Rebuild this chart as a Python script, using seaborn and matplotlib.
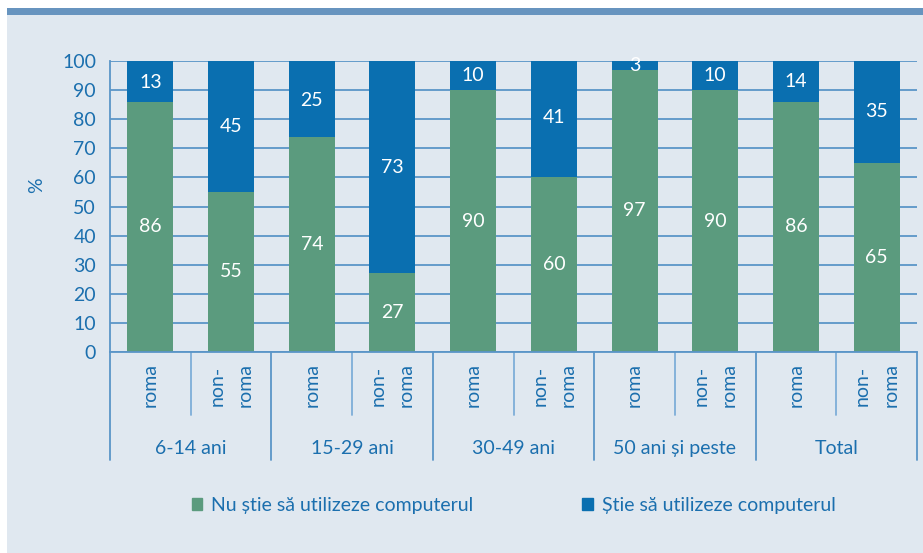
import pandas as pd
import numpy as np
import matplotlib.pyplot as plt
import matplotlib.patches as mpatches
import matplotlib.transforms as mtransforms
import seaborn as sns

groups = ["6-14 ani", "15-29 ani", "30-49 ani", "50 ani și peste", "Total"]
ethnic = ["roma", "non-\nroma"]
nu_stie = [86, 55, 74, 27, 90, 60, 97, 90, 86, 65]
stie = [13, 45, 25, 73, 10, 41, 3, 10, 14, 35]
# stacked to 100% in the original chart
bar_total = [100, 100, 100, 100, 100, 100, 100, 100, 100, 100]
yticks = [0, 10, 20, 30, 40, 50, 60, 70, 80, 90, 100]

GREEN = '#5b9b7e'
BLUE = '#0a6fb0'
TXT = '#1b6fae'
GRID = '#5a95c8'
SEP = '#7eaed8'
BG = '#e0e8f0'

sns.set_style("white")
plt.rcParams['font.family'] = ['Lato', 'DejaVu Sans']

df = pd.DataFrame({
    'bar': [f"{g}|{e}" for g in groups for e in ethnic],
    'nu_stie': nu_stie,
    'stie': stie,
    'total': bar_total,
})

fig = plt.figure(figsize=(9.23, 5.53), dpi=100)
fig.patch.set_facecolor('white')
fig.patches.append(mpatches.Rectangle((7/923, 0), 1, (553-8)/553, transform=fig.transFigure,
                                      facecolor=BG, edgecolor='none', zorder=-10))
fig.patches.append(mpatches.Rectangle((7/923, (553-15)/553), 1, 7/553, transform=fig.transFigure,
                                      facecolor='#6794bf', edgecolor='none', zorder=-9))

ax = fig.add_axes([110/923, 1-352/553, 807/923, 291/553])
ax.set_facecolor('none')

sns.barplot(data=df, x='bar', y='total', color=BLUE, saturation=1, width=0.57,
            linewidth=0, edgecolor='none', ax=ax)
sns.barplot(data=df, x='bar', y='nu_stie', color=GREEN, saturation=1, width=0.57,
            linewidth=0, edgecolor='none', ax=ax)

for p_green, a, b in zip(ax.containers[1], nu_stie, stie):
    cx = p_green.get_x() + p_green.get_width() / 2
    ax.text(cx, a / 2, str(a), ha='center', va='center', color='white', fontsize=14)
    ax.text(cx, min(a + b / 2, 98.6), str(b), ha='center', va='center', color='white', fontsize=14)

ax.set_ylim(0, 100)
ax.set_xlim(-0.5, len(df) - 0.5)
ax.set_yticks(yticks)
ax.set_axisbelow(True)
ax.yaxis.grid(True, color=GRID, lw=1.3)
ax.tick_params(axis='y', length=7, width=1.3, color=GRID, labelcolor=TXT, labelsize=14, pad=3)
ax.tick_params(axis='x', bottom=False, labelbottom=False)
ax.set_xlabel('')
ax.set_ylabel('%', color=TXT, fontsize=14)
ax.yaxis.set_label_coords(-0.08, 0.574)
for s in ['top', 'right']:
    ax.spines[s].set_visible(False)
for s in ['left', 'bottom']:
    ax.spines[s].set_color(GRID)
    ax.spines[s].set_linewidth(1.3)

trans = mtransforms.blended_transform_factory(ax.transData, ax.transAxes)
for i in range(len(df)):
    ax.text(i, -0.115, ethnic[i % 2], transform=trans, rotation=90, ha='center', va='center',
            color=TXT, fontsize=14, linespacing=1.8, multialignment='center')
for i in range(len(df) + 1):
    x = i - 0.5
    y1 = -0.371 if i % 2 == 0 else -0.217
    ax.plot([x, x], [0, y1], transform=trans, color=GRID if i % 2 == 0 else SEP,
            lw=1.3, clip_on=False)
for j, g in enumerate(groups):
    ax.text(2 * j + 0.5, -0.33, g, transform=trans, ha='center', va='center',
            color=TXT, fontsize=14)

handles = [mpatches.Patch(color=GREEN, label='Nu știe să utilizeze computerul'),
           mpatches.Patch(color=BLUE, label='Știe să utilizeze computerul')]
ax.legend(handles=handles, loc='center', bbox_to_anchor=(0.5, -0.526), ncol=2, frameon=False,
          fontsize=14, labelcolor=TXT, handlelength=0.55, handleheight=0.55,
          handletextpad=0.45, columnspacing=5.6)

fig.savefig('out.png', dpi=100, facecolor=fig.get_facecolor())
